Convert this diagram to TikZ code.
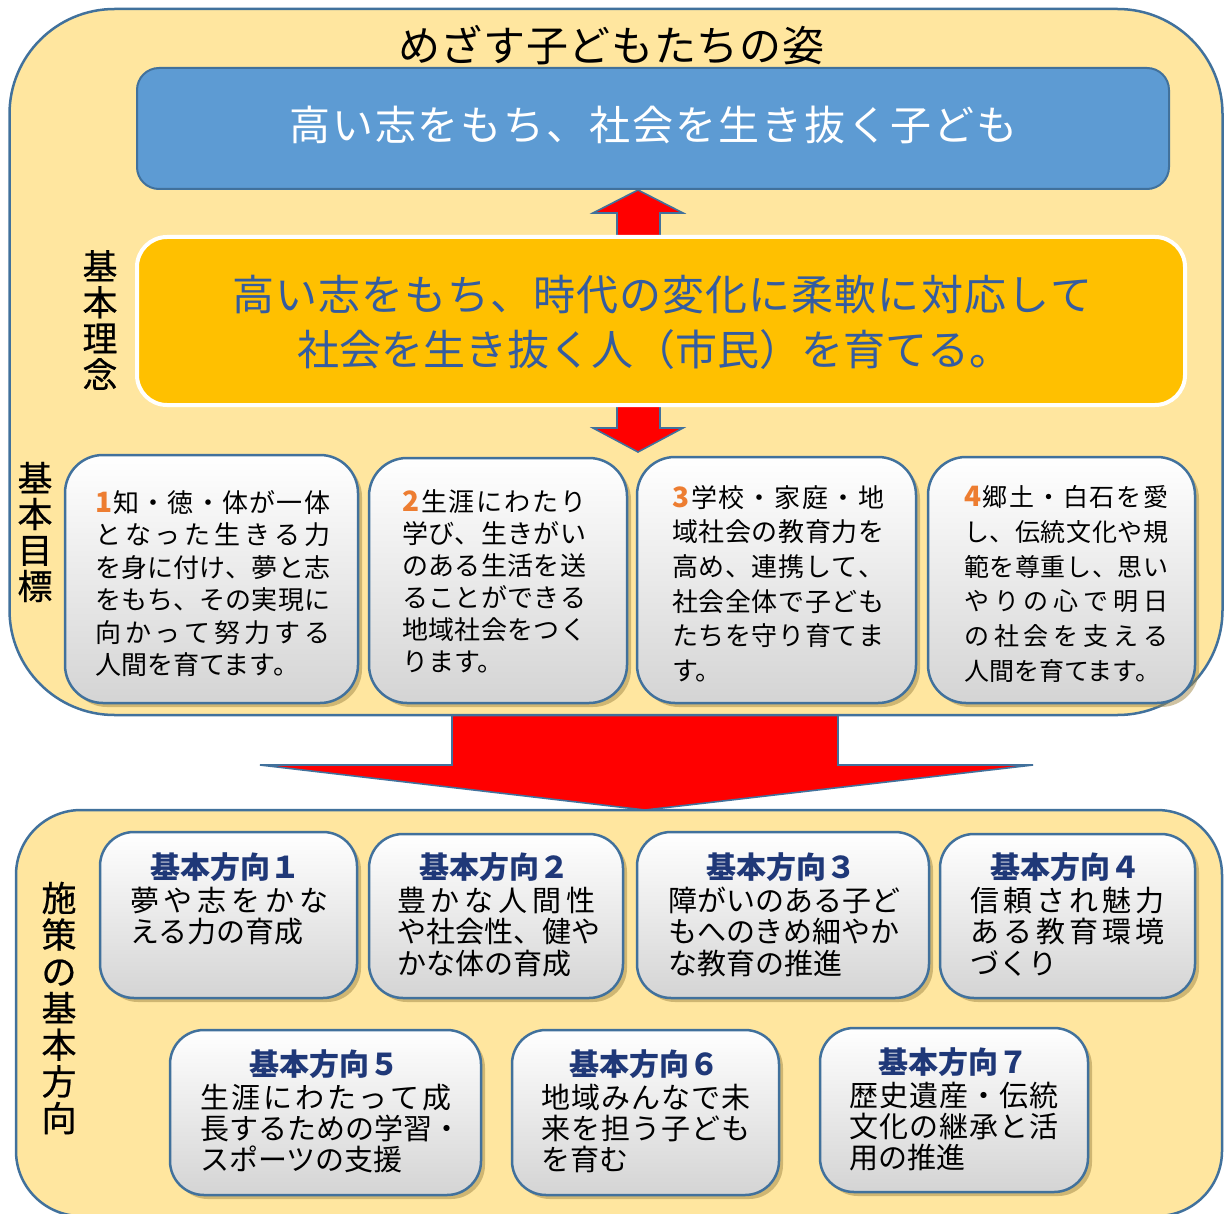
\documentclass[tikz,border=0pt]{standalone}
\usepackage{fontspec}
\setmainfont{Noto Sans CJK JP}
\usetikzlibrary{shadows}
\definecolor{panelfill}{RGB}{255,230,159}
\definecolor{edge}{RGB}{65,113,156}
\definecolor{skyblue}{RGB}{93,155,211}
\definecolor{amber}{RGB}{255,192,0}
\definecolor{ink}{RGB}{52,92,160}
\definecolor{navy}{RGB}{31,56,120}
\definecolor{numor}{RGB}{237,125,49}
\definecolor{glow}{RGB}{160,135,70}
\definecolor{boxgray}{RGB}{212,212,212}
\definecolor{arrred}{RGB}{255,0,0}
\def\jusend{}
\def\jus#1#2{\hbox to #1{\jusA#2\jusend}}
\def\jusA#1{{#1}\jusB}
\def\jusB#1{\ifx#1\jusend\else\hfil#1\expandafter\jusB\fi}
\newcommand\numb{\fontsize{28}{30}\selectfont\bfseries\color{numor}}
\newcommand\tbfont{\fontsize{26}{30}\selectfont}
\newcommand\tbfontb{\fontsize{25}{30}\selectfont}
\newcommand\bdfont{\fontsize{29}{32}\selectfont}
\newcommand\hdfont{\fontsize{30}{32}\selectfont\bfseries}
\newcommand\vlfont{\fontsize{35}{36}\selectfont\addfontfeature{FakeBold=0.6}}
\newcommand\vlfontl{\fontsize{35}{36.7}\selectfont\addfontfeature{FakeBold=0.6}}
\tikzset{
  panel/.style={draw=edge, line width=2.5pt, fill=panelfill, rounded corners=105pt, inner sep=0pt},
  gbox/.style={draw=edge, line width=2.5pt, rounded corners=38pt, top color=white, bottom color=boxgray,
    drop shadow={shadow xshift=4pt, shadow yshift=-4pt, fill=glow, opacity=.5}, inner sep=0pt},
  sbox/.style={gbox, rounded corners=34pt},
  blockarrow/.style={fill=arrred, draw=edge, line width=1.6pt, line join=miter},
  tl/.style={anchor=base west, inner sep=0pt, text=black},
  hdr/.style={anchor=base, inner sep=0pt, text=navy, font=\hdfont},
  vlab/.style={align=center, inner sep=0pt, text=black, font=\vlfont},
  vlabl/.style={align=center, inner sep=0pt, text=black, font=\vlfontl}
}
\begin{document}
\begin{tikzpicture}[x=1pt,y=-1pt]
\useasboundingbox (0,0) rectangle (1225,1214);
\fill[white] (0,0) rectangle (1225,1214);

% bottom panel
\node[panel, rounded corners=65pt, minimum width=1206pt, minimum height=406pt] (planpanel) at (619,1013) {};
% big arrow
\draw[blockarrow] (452,700) -- (452,765) -- (260,765) -- (645,810) -- (1033,765) -- (838,765) -- (838,700) -- cycle;
% top panel
\node[panel, minimum width=1213pt, minimum height=706pt] (goalpanel) at (616,362) {};

% title
\node[tl, font=\fontsize{42}{44}\selectfont] (title) at (398,62) {\jus{426pt}{めざす子どもたちの姿}};

% small arrows
\draw[blockarrow] (638,190) -- (683,213) -- (660,213) -- (660,250) -- (617,250) -- (617,213) -- (593,213) -- cycle;
\draw[blockarrow] (617,390) -- (617,428) -- (593,428) -- (638,452) -- (683,428) -- (660,428) -- (660,390) -- cycle;

% blue box
\node[draw=edge, line width=2pt, fill=skyblue, rounded corners=22pt, minimum width=1032pt, minimum height=121pt, inner sep=0pt] (child) at (653,128.5) {};
\node[tl, text=white, font=\fontsize{41}{42}\selectfont] (childtxt) at (289,141) {\jus{728pt}{高い志をもち、社会を生き抜く子ども}};

% orange box
\node[draw=white, line width=4pt, fill=amber, rounded corners=30pt, minimum width=1048pt, minimum height=168pt, inner sep=0pt] (idea) at (661,321) {};
\node[tl, text=ink, font=\fontsize{42}{44}\selectfont] (idea1) at (232,310) {\jus{860pt}{高い志をもち、時代の変化に柔軟に対応して}};
\node[tl, text=ink, font=\fontsize{42}{44}\selectfont] (idea2) at (297,365) {\jus{712pt}{社会を生き抜く人（市民）を育てる。}};

% vertical labels
\node[vlab] (l1) at (100,320) {基\\本\\理\\念};
\node[vlab] (l2) at (35,532) {基\\本\\目\\標};
\node[vlabl] (l3) at (59,1008) {施\\策\\の\\基\\本\\方\\向};

% goal boxes
\node[gbox, minimum width=293pt, minimum height=248pt] (tb1) at (211.5,579) {};
\node[gbox, minimum width=258pt, minimum height=245pt] (tb2) at (498,580.5) {};
\node[gbox, minimum width=279pt, minimum height=246pt] (tb3) at (776.5,580) {};
\node[gbox, minimum width=267pt, minimum height=246pt] (tb4) at (1061.5,580) {};

% goal texts
\node[tl, font=\tbfont] (a1) at (95,512) {\jus{235pt}{{\numb 1}知・徳・体が一体}};
\node[tl, font=\tbfont] (a2) at (95,544.5) {\jus{235pt}{となった生きる力}};
\node[tl, font=\tbfont] (a3) at (95,577) {\jus{235pt}{を身に付け、夢と志}};
\node[tl, font=\tbfont] (a4) at (95,609.5) {\jus{235pt}{をもち、その実現に}};
\node[tl, font=\tbfont] (a5) at (95,642) {\jus{235pt}{向かって努力する}};
\node[tl, font=\tbfont] (a6) at (95,674.5) {人間を育てます。};

\node[tl, font=\tbfont] (b1) at (402,511) {\jus{184pt}{{\numb 2}生涯にわたり}};
\node[tl, font=\tbfont] (b2) at (402,543) {\jus{184pt}{学び、生きがい}};
\node[tl, font=\tbfont] (b3) at (402,575) {\jus{184pt}{のある生活を送}};
\node[tl, font=\tbfont] (b4) at (402,607) {\jus{184pt}{ることができる}};
\node[tl, font=\tbfont] (b5) at (402,639) {\jus{184pt}{地域社会をつく}};
\node[tl, font=\tbfont] (b6) at (402,671) {ります。};

\node[tl, font=\tbfont] (c1) at (672,507) {\jus{212pt}{{\numb 3}学校・家庭・地}};
\node[tl, font=\tbfont] (c2) at (672,541.5) {\jus{212pt}{域社会の教育力を}};
\node[tl, font=\tbfont] (c3) at (672,576) {\jus{212pt}{高め、連携して、}};
\node[tl, font=\tbfont] (c4) at (672,611) {\jus{212pt}{社会全体で子ども}};
\node[tl, font=\tbfont] (c5) at (672,645.5) {\jus{212pt}{たちを守り育てま}};
\node[tl, font=\tbfont] (c6) at (672,680.5) {す。};

\node[tl, font=\tbfontb] (d1) at (964,506.5) {\jus{204pt}{{\numb 4}郷土・白石を愛}};
\node[tl, font=\tbfontb] (d2) at (964,541.5) {\jus{204pt}{し、伝統文化や規}};
\node[tl, font=\tbfontb] (d3) at (964,576) {\jus{204pt}{範を尊重し、思い}};
\node[tl, font=\tbfontb] (d4) at (964,610.5) {\jus{204pt}{やりの心で明日}};
\node[tl, font=\tbfontb] (d5) at (964,645.5) {\jus{204pt}{の社会を支える}};
\node[tl, font=\tbfontb] (d6) at (964,680) {人間を育てます。};

% direction boxes
\node[sbox, minimum width=257pt, minimum height=166pt] (bb1) at (228.5,915) {};
\node[sbox, minimum width=254pt, minimum height=164pt] (bb2) at (496,916) {};
\node[sbox, minimum width=292pt, minimum height=166pt] (bb3) at (783,915) {};
\node[sbox, minimum width=255pt, minimum height=164pt] (bb4) at (1067.5,916) {};
\node[sbox, minimum width=311pt, minimum height=165pt] (bb5) at (325.5,1112.5) {};
\node[sbox, minimum width=267pt, minimum height=165pt] (bb6) at (645.5,1112.5) {};
\node[sbox, minimum width=268pt, minimum height=164pt] (bb7) at (954,1110) {};

% direction texts
\node[hdr] (h1) at (225,878) {基本方向１};
\node[tl, font=\bdfont] (e1) at (130,911) {\jus{198pt}{夢や志をかな}};
\node[tl, font=\bdfont] (e2) at (130,942.5) {える力の育成};

\node[hdr] (h2) at (494,878) {基本方向２};
\node[tl, font=\bdfont] (f1) at (397,911) {\jus{198pt}{豊かな人間性}};
\node[tl, font=\bdfont] (f2) at (397,942.5) {や社会性、健や};
\node[tl, font=\bdfont] (f3) at (397,974) {かな体の育成};

\node[hdr] (h3) at (781,878) {基本方向３};
\node[tl, font=\bdfont] (g1) at (668,911) {障がいのある子ど};
\node[tl, font=\bdfont] (g2) at (668,942.5) {もへのきめ細やか};
\node[tl, font=\bdfont] (g3) at (668,974) {な教育の推進};

\node[hdr] (h4) at (1065,878) {基本方向４};
\node[tl, font=\bdfont] (k1) at (970,911) {\jus{194pt}{信頼され魅力}};
\node[tl, font=\bdfont] (k2) at (970,942.5) {\jus{194pt}{ある教育環境}};
\node[tl, font=\bdfont] (k3) at (970,974) {づくり};

\node[hdr] (h5) at (324,1075) {基本方向５};
\node[tl, font=\bdfont] (m1) at (200,1108) {\jus{251pt}{生涯にわたって成}};
\node[tl, font=\bdfont] (m2) at (200,1139.5) {長するための学習・};
\node[tl, font=\bdfont] (m3) at (200,1170.5) {スポーツの支援};

\node[hdr] (h6) at (644,1075) {基本方向６};
\node[tl, font=\bdfont] (n1) at (541,1108) {\jus{209pt}{地域みんなで未}};
\node[tl, font=\bdfont] (n2) at (541,1139.5) {\jus{209pt}{来を担う子ども}};
\node[tl, font=\bdfont] (n3) at (541,1170.5) {を育む};

\node[hdr] (h7) at (953,1073) {基本方向７};
\node[tl, font=\bdfont] (p1) at (849,1106) {\jus{209pt}{歴史遺産・伝統}};
\node[tl, font=\bdfont] (p2) at (849,1137.5) {\jus{209pt}{文化の継承と活}};
\node[tl, font=\bdfont] (p3) at (849,1168.5) {用の推進};
\end{tikzpicture}
\end{document}
